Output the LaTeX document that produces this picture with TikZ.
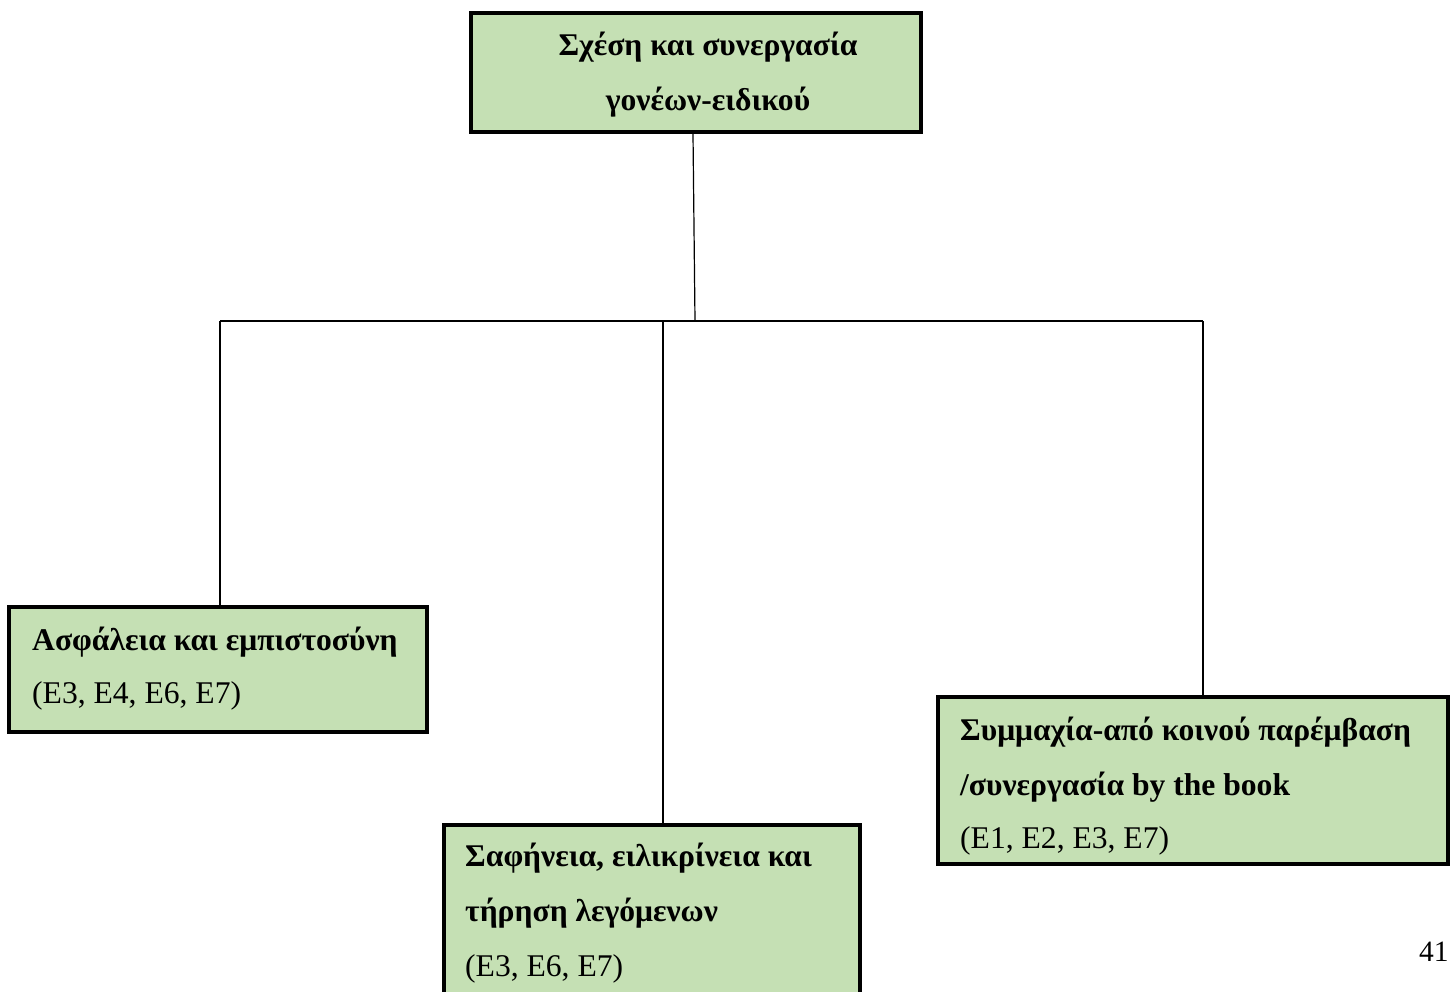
\documentclass[tikz,border=0pt]{standalone}
\usepackage{fontspec}
\setmainfont{Liberation Serif}
\definecolor{boxgreen}{RGB}{197,224,180}
\tikzset{
  gbox/.style={draw=black, line width=4pt, fill=boxgreen, rectangle, inner sep=0pt},
  link/.style={draw=black, line width=1.2pt},
  lbl/.style={inner sep=0pt, anchor=base west, font=\fontsize{31.6}{55}\selectfont},
  blbl/.style={lbl, font=\fontsize{31.6}{55}\selectfont\bfseries},
}
\begin{document}
\begin{tikzpicture}[x=1pt,y=-1pt]
\useasboundingbox (0,0) rectangle (1456,991);
\clip (0,0) rectangle (1456,991);
% boxes
\node[gbox, minimum width=450pt, minimum height=119pt] (top) at (696,72.5) {};
\node[gbox, minimum width=418pt, minimum height=125pt] (left) at (218,669.5) {};
\node[gbox, minimum width=416pt, minimum height=200pt] (mid) at (652,925) {};
\node[gbox, minimum width=510pt, minimum height=167pt] (right) at (1193,780.5) {};
% connectors
\coordinate (j) at (695,321);
\coordinate (hl) at (220,321);
\coordinate (hm) at (663,321);
\coordinate (hr) at (1203,321);
\draw[link] (top.south -| 693,0) -- (j);
\draw[link] (hl) -- (hr);
\draw[link] (hl) -- (hl |- left.north);
\draw[link] (hm) -- (hm |- mid.north);
\draw[link] (hr) -- (hr |- right.north);
% texts
\node[blbl, anchor=base] (t1) at (708,55) {Σχέση και συνεργασία};
\node[blbl, anchor=base] (t2) at (708,110) {γονέων-ειδικού};
\node[blbl] (l1) at (32,650) {Ασφάλεια και εμπιστοσύνη};
\node[lbl] (l2) at (32,703) {(E3, E4, E6, E7)};
\node[blbl] (m1) at (465,866) {Σαφήνεια, ειλικρίνεια και};
\node[blbl] (m2) at (465,921) {τήρηση λεγόμενων};
\node[lbl] (m3) at (465,976) {(E3, E6, E7)};
\node[blbl] (r1) at (960,740) {Συμμαχία-από κοινού παρέμβαση};
\node[blbl] (r2) at (960,795) {/συνεργασία by the book};
\node[lbl] (r3) at (960,848) {(E1, E2, E3, E7)};
\node[lbl, font=\fontsize{29.5}{35}\selectfont] (pg) at (1419,961) {41};
\end{tikzpicture}
\end{document}
